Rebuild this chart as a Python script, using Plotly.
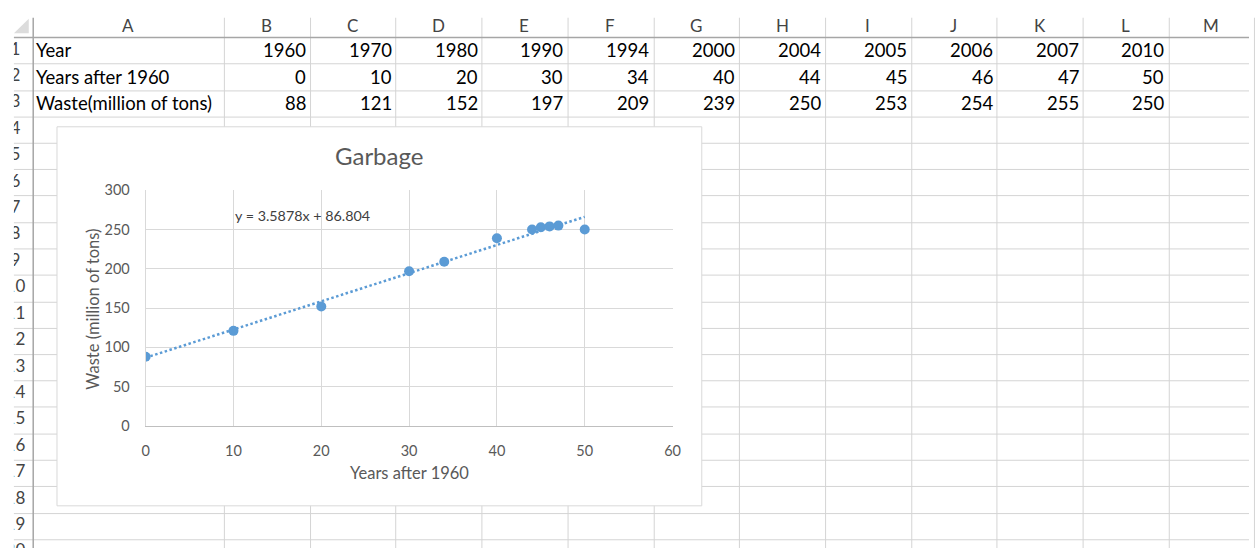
import numpy as np
import plotly.graph_objects as go

# ---------------- data ----------------
years = [1960, 1970, 1980, 1990, 1994, 2000, 2004, 2005, 2006, 2007, 2010]
years_after = [0, 10, 20, 30, 34, 40, 44, 45, 46, 47, 50]
waste = [88, 121, 152, 197, 209, 239, 250, 253, 254, 255, 250]
row_labels = ["Year", "Years after 1960", "Waste(million of tons)"]
col_letters = ["A", "B", "C", "D", "E", "F", "G", "H", "I", "J", "K", "L", "M"]
row_numbers = list(range(1, 21))
chart_title = "Garbage"
x_title = "Years after 1960"
y_title = "Waste (million of tons)"

# ---------------- geometry (pixels) ----------------
W, H = 1257, 556
FONT = "Lato"
col_left_A = 29.0
col_A_w = 193.0
col_w = 86.7
row_top = 29.0
row_h = 27.25
sheet_line = "#d4d4d4"
header_line = "#a6a6a6"

def PX(x):
    return x / W

def PY(y):
    return 1 - y / H

col_edges = [col_left_A, col_left_A + col_A_w] + [col_left_A + col_A_w + col_w * k for k in range(1, len(col_letters))]

shapes = []
annotations = []

for k in range(1, 21):
    y = round(row_top + row_h * k) + 0.5
    shapes.append(dict(type="line", xref="paper", yref="paper", x0=PX(10), x1=PX(W),
                       y0=PY(y), y1=PY(y), line=dict(color=sheet_line, width=1), layer="below"))
for xe in col_edges[1:]:
    x = round(xe) + 0.5
    shapes.append(dict(type="line", xref="paper", yref="paper", x0=PX(x), x1=PX(x),
                       y0=PY(9), y1=PY(H), line=dict(color=sheet_line, width=1), layer="below"))
shapes.append(dict(type="line", xref="paper", yref="paper", x0=PX(10), x1=PX(W),
                   y0=PY(29.5), y1=PY(29.5), line=dict(color=header_line, width=1.5), layer="below"))
shapes.append(dict(type="line", xref="paper", yref="paper", x0=PX(29.5), x1=PX(29.5),
                   y0=PY(9), y1=PY(H), line=dict(color=header_line, width=1.5), layer="below"))
shapes.append(dict(type="path", xref="paper", yref="paper",
                   path=f"M {PX(25)},{PY(10)} L {PX(25)},{PY(25)} L {PX(10)},{PY(25)} Z",
                   fillcolor="#dcdcdc", line=dict(width=0), layer="below"))
shapes.append(dict(type="rect", xref="paper", yref="paper", x0=PX(53.5), x1=PX(704.5),
                   y0=PY(512.5), y1=PY(121.5), fillcolor="white",
                   line=dict(color="#d9d9d9", width=1), layer="below"))

# column header letters
for i, letter in enumerate(col_letters):
    xc = (col_edges[i] + col_edges[i + 1]) / 2 if i + 1 < len(col_edges) else col_edges[i] + col_w / 2
    annotations.append(dict(text=letter, x=PX(xc), y=PY(17), xref="paper", yref="paper",
                            showarrow=False, xanchor="center", yanchor="middle",
                            font=dict(family=FONT, size=17, color="#444444")))

# cells
table_rows = [years, years_after, waste]
for ri, (label, vals) in enumerate(zip(row_labels, table_rows)):
    yc = row_top + row_h * (ri + 0.5)
    annotations.append(dict(text=label, x=PX(col_edges[0] + 1.5), y=PY(yc), xref="paper", yref="paper",
                            showarrow=False, xanchor="left", yanchor="middle",
                            font=dict(family=FONT, size=18.5, color="#000000")))
    for ci, v in enumerate(vals):
        xr = col_edges[ci + 2] - 2
        annotations.append(dict(text=str(v), x=PX(xr), y=PY(yc), xref="paper", yref="paper",
                                showarrow=False, xanchor="right", yanchor="middle",
                                font=dict(family=FONT, size=18.5, color="#000000")))

# chart texts
annotations.append(dict(text=chart_title, x=PX(378.5), y=PY(151), xref="paper", yref="paper",
                        showarrow=False, xanchor="center", yanchor="middle",
                        font=dict(family=FONT, size=24, color="#595959")))
annotations.append(dict(text=x_title, x=PX(409), y=PY(479), xref="paper", yref="paper",
                        showarrow=False, xanchor="center", yanchor="middle",
                        font=dict(family=FONT, size=16.5, color="#595959")))
annotations.append(dict(text=y_title, x=PX(89), y=PY(310), xref="paper", yref="paper",
                        showarrow=False, xanchor="center", yanchor="middle", textangle=-90,
                        font=dict(family=FONT, size=16.5, color="#595959")))

slope, intercept = np.polyfit(years_after, waste, 1)
tx = [min(years_after), max(years_after)]
ty = [slope * v + intercept for v in tx]
annotations.append(dict(text=f"y = {slope:.4f}x + {intercept:.3f}", x=10, y=268, xref="x", yref="y",
                        showarrow=False, xanchor="left", yanchor="middle",
                        font=dict(family=FONT, size=14.3, color="#404040")))

fig = go.Figure()
fig.add_trace(go.Scatter(x=tx, y=ty, mode="lines",
                         line=dict(color="#5B9BD5", width=2.5, dash="2.5px,2.5px"),
                         hoverinfo="skip"))
fig.add_trace(go.Scatter(x=years_after, y=waste, mode="markers",
                         marker=dict(color="#5B9BD5", size=10)))

# row numbers: clipped text in a narrow helper subplot (pixel coordinates)
row_centers = [row_top + row_h * (r - 0.5) for r in row_numbers]
fig.add_trace(go.Scatter(x=[11.5] * len(row_numbers), y=row_centers, mode="text",
                         text=[str(r) for r in row_numbers], textposition="middle center",
                         textfont=dict(family=FONT, size=17, color="#444444"),
                         xaxis="x3", yaxis="y3", hoverinfo="skip", cliponaxis=True))

fig.update_layout(
    width=W, height=H, autosize=False, margin=dict(l=0, r=0, t=0, b=0),
    paper_bgcolor="white", plot_bgcolor="rgba(0,0,0,0)", showlegend=False,
    shapes=shapes, annotations=annotations,
    xaxis=dict(domain=[PX(143), PX(675)], range=[0, 60], dtick=10, tick0=0,
               showgrid=True, gridcolor="#d9d9d9", gridwidth=1, zeroline=False,
               showline=True, linecolor="#bfbfbf", linewidth=1,
               ticks="", ticklabelstandoff=12,
               tickfont=dict(family=FONT, size=14.5, color="#595959")),
    yaxis=dict(domain=[PY(430), PY(187)], range=[0, 300], dtick=50, tick0=0,
               showgrid=True, gridcolor="#d9d9d9", gridwidth=1, zeroline=False,
               showline=True, linecolor="#d9d9d9", linewidth=1,
               ticks="", ticklabelstandoff=12,
               tickfont=dict(family=FONT, size=14.5, color="#595959")),
    xaxis3=dict(domain=[PX(10), PX(29)], range=[10, 29], visible=False, fixedrange=True),
    yaxis3=dict(domain=[0, 1], range=[H, 0], visible=False, fixedrange=True),
)

fig.write_html(
    "out.html",
    config={"displayModeBar": False, "responsive": False},
    post_script=(
        "document.body.style.margin='0';"
        "document.body.style.padding='0';"
        "document.documentElement.style.overflow='hidden';"
        "var gd=document.getElementById('{plot_id}');"
        "gd.style.width='1257px';gd.style.height='556px';"
        "Plotly.relayout(gd,{autosize:false,width:1257,height:556});"
    ),
)
